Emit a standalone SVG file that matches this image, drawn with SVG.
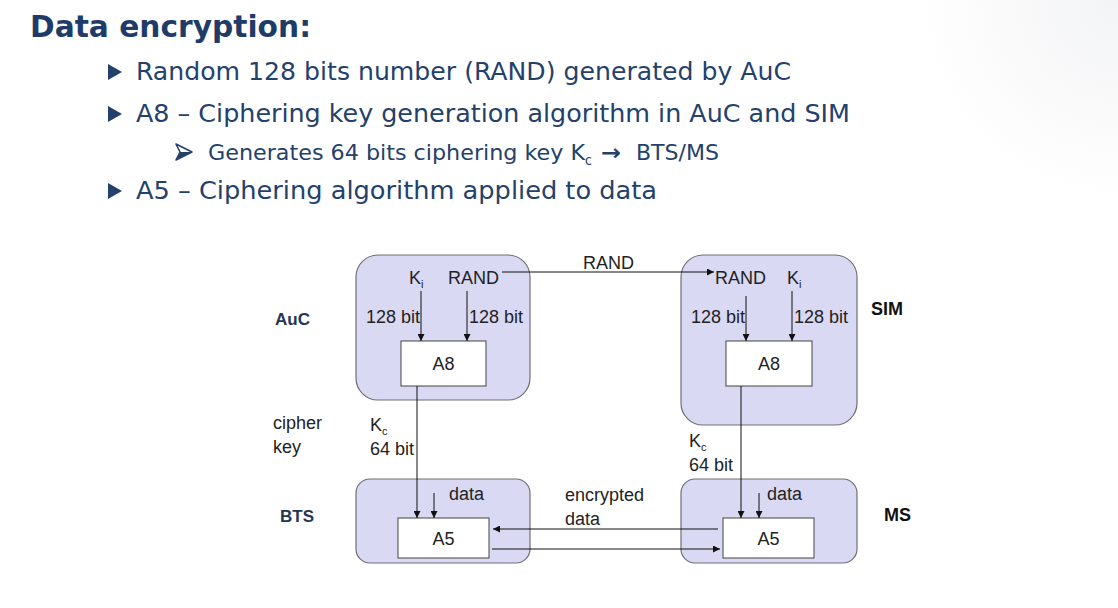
<svg xmlns="http://www.w3.org/2000/svg" width="1118" height="608" viewBox="0 0 1118 608">
  <defs>
    <radialGradient id="corner" cx="1118" cy="0" r="200" gradientUnits="userSpaceOnUse">
      <stop offset="0" stop-color="#f3f4f6"/>
      <stop offset="0.5" stop-color="#f9f9fa"/>
      <stop offset="1" stop-color="#ffffff"/>
    </radialGradient>
    <marker id="arr" viewBox="0 0 8 8" refX="8" refY="4" markerWidth="7" markerHeight="7" markerUnits="userSpaceOnUse" orient="auto">
      <path d="M0,0 L8,4 L0,8 z" fill="#111"/>
    </marker>
  </defs>
  <style>
    .slide { font-family: "DejaVu Sans Condensed", "DejaVu Sans", sans-serif; fill: #24416b; }
    .title { font-family: "DejaVu Sans", sans-serif; font-weight: bold; font-size: 31px; fill: #1f3c69; }
    .bullet { font-size: 25px; }
    .sub { font-size: 22px; }
    .group { fill: #d9d9f3; stroke: #6e6e78; stroke-width: 1.2; }
    .algo { fill: #ffffff; stroke: #444; stroke-width: 1; }
    .lbl { font-family: "Liberation Sans", Arial, sans-serif; font-size: 18px; fill: #222; }
    .side { font-family: "Liberation Sans", Arial, sans-serif; font-size: 17px; font-weight: bold; fill: #243655; }
    .sideblk { font-family: "Liberation Sans", Arial, sans-serif; font-size: 18px; font-weight: bold; fill: #111; }
    .wire { fill: none; stroke: #111; stroke-width: 1; }
  </style>

  <rect width="1118" height="608" fill="#ffffff"/>
  <rect x="900" y="0" width="218" height="200" fill="url(#corner)"/>

  <!-- slide heading and bullet list -->
  <text class="title" x="30" y="37" textLength="281" lengthAdjust="spacingAndGlyphs">Data encryption:</text>
  <polygon points="108,64 122,72 108,80" fill="#24416b"/>
  <text class="slide bullet" x="136" y="80" textLength="655" lengthAdjust="spacingAndGlyphs">Random 128 bits number (RAND) generated by AuC</text>
  <polygon points="108,106 122,114 108,122" fill="#24416b"/>
  <text class="slide bullet" x="136" y="122" textLength="714" lengthAdjust="spacingAndGlyphs">A8 – Ciphering key generation algorithm in AuC and SIM</text>
  <!-- arrowhead sub-bullet -->
  <polygon points="176,144 192,152 176,160 180,152" fill="#ffffff" stroke="#24416b" stroke-width="1.6" stroke-linejoin="round"/>
  <polygon points="180,152 192,152 176,160" fill="#24416b"/>
  <text class="slide sub" x="208" y="160"><tspan textLength="377" lengthAdjust="spacingAndGlyphs">Generates 64 bits ciphering key K</tspan><tspan font-size="14" dy="5">c</tspan><tspan x="601" dy="-5" font-weight="bold" textLength="20" lengthAdjust="spacingAndGlyphs">→</tspan><tspan x="636" textLength="83" lengthAdjust="spacingAndGlyphs">BTS/MS</tspan></text>
  <polygon points="108,183 122,191 108,199" fill="#24416b"/>
  <text class="slide bullet" x="136" y="199" textLength="521" lengthAdjust="spacingAndGlyphs">A5 – Ciphering algorithm applied to data</text>

  <!-- side labels -->
  <text class="side" x="275" y="325">AuC</text>
  <text class="side" x="280" y="522">BTS</text>
  <text class="sideblk" x="871" y="315">SIM</text>
  <text class="sideblk" x="884" y="521">MS</text>
  <text class="lbl" x="273" y="429">cipher</text>
  <text class="lbl" x="273" y="453">key</text>

  <!-- AuC -->
  <g id="auc">
    <rect class="group" x="356" y="255" width="174" height="145" rx="22"/>
    <text class="lbl" x="409" y="284">K<tspan font-size="11" dy="4">i</tspan></text>
    <text class="lbl" x="448" y="284">RAND</text>
    <text class="lbl" x="366" y="323">128 bit</text>
    <text class="lbl" x="469" y="323">128 bit</text>
    <rect class="algo" x="401" y="341" width="85" height="45"/>
    <text class="lbl" x="443.5" y="370" text-anchor="middle">A8</text>
  </g>

  <!-- SIM -->
  <g id="sim">
    <rect class="group" x="681" y="255" width="176" height="170" rx="22"/>
    <text class="lbl" x="715" y="284">RAND</text>
    <text class="lbl" x="787" y="284">K<tspan font-size="11" dy="4">i</tspan></text>
    <text class="lbl" x="691" y="323">128 bit</text>
    <text class="lbl" x="794" y="323">128 bit</text>
    <rect class="algo" x="726" y="341" width="86" height="45"/>
    <text class="lbl" x="769" y="370" text-anchor="middle">A8</text>
  </g>

  <!-- BTS -->
  <g id="bts">
    <rect class="group" x="356" y="479" width="174" height="84" rx="14"/>
    <text class="lbl" x="449" y="500">data</text>
    <rect class="algo" x="398" y="518" width="91" height="40"/>
    <text class="lbl" x="443.5" y="545" text-anchor="middle">A5</text>
  </g>

  <!-- MS -->
  <g id="ms">
    <rect class="group" x="681" y="479" width="176" height="84" rx="14"/>
    <text class="lbl" x="767" y="500">data</text>
    <rect class="algo" x="723" y="518" width="91" height="40"/>
    <text class="lbl" x="768.5" y="545" text-anchor="middle">A5</text>
  </g>

  <!-- connectors -->
  <g id="connectors">
    <line class="wire" x1="421" y1="291" x2="421" y2="341" marker-end="url(#arr)"/>
    <line class="wire" x1="467" y1="291" x2="467" y2="341" marker-end="url(#arr)"/>
    <line class="wire" x1="746" y1="296" x2="746" y2="341" marker-end="url(#arr)"/>
    <line class="wire" x1="792" y1="291" x2="792" y2="341" marker-end="url(#arr)"/>
    <line class="wire" x1="502" y1="272" x2="714" y2="272" marker-end="url(#arr)"/>
    <line class="wire" x1="417" y1="386" x2="417" y2="518" marker-end="url(#arr)"/>
    <line class="wire" x1="741" y1="386" x2="741" y2="518" marker-end="url(#arr)"/>
    <line class="wire" x1="434" y1="493" x2="434" y2="518" marker-end="url(#arr)"/>
    <line class="wire" x1="759" y1="493" x2="759" y2="518" marker-end="url(#arr)"/>
    <line class="wire" x1="718" y1="529" x2="493" y2="529" marker-end="url(#arr)"/>
    <line class="wire" x1="492" y1="549" x2="720" y2="549" marker-end="url(#arr)"/>
  </g>

  <!-- connector labels -->
  <text class="lbl" x="583" y="269">RAND</text>
  <text class="lbl" x="370" y="431">K<tspan font-size="11" dy="4">c</tspan></text>
  <text class="lbl" x="370" y="455">64 bit</text>
  <text class="lbl" x="689" y="447">K<tspan font-size="11" dy="4">c</tspan></text>
  <text class="lbl" x="689" y="471">64 bit</text>
  <text class="lbl" x="565" y="501">encrypted</text>
  <text class="lbl" x="565" y="525">data</text>
</svg>
